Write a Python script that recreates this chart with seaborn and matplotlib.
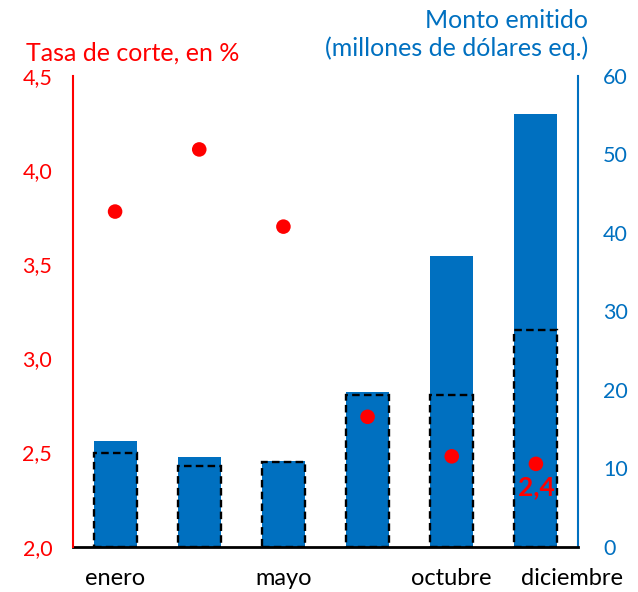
import matplotlib
matplotlib.use("Agg")
import matplotlib.pyplot as plt
import matplotlib.transforms as mtransforms
import seaborn as sns
import pandas as pd

# ---- data ----
positions = [0, 1, 2, 3, 4, 5]
tick_labels = ["enero", "", "mayo", "", "octubre", "diciembre"]
monto_emitido = [13.5, 11.4, 10.9, 19.7, 37.0, 55.1]       # blue bars (right axis)
monto_referencia = [11.9, 10.3, 10.8, 19.4, 19.4, 27.6]    # dashed outlines (right axis)
tasa_corte = [3.78, 4.11, 3.70, 2.69, 2.48, 2.44]           # red dots (left axis)
etiqueta_ultima = "2,4"
right_ticks = [0, 10, 20, 30, 40, 50, 60]
left_ticks = [2.0, 2.5, 3.0, 3.5, 4.0, 4.5]

df = pd.DataFrame({"pos": positions, "monto": monto_emitido,
                   "ref": monto_referencia, "tasa": tasa_corte})

sns.set_theme(style="white")
plt.rcParams["font.family"] = ["Lato", "DejaVu Sans"]

RED = "#FF0000"
BLUE = "#0070C0"

fig = plt.figure(figsize=(6.38, 5.92), dpi=100)
ax = fig.add_axes([73 / 638, 1 - 546.7 / 592, (578 - 73) / 638, (546.7 - 76) / 592])

# bars on the main axes (right-hand scale)
sns.barplot(data=df, x="pos", y="monto", color=BLUE, saturation=1, width=0.51,
            ax=ax, edgecolor="none", linewidth=0)
n_solid = len(ax.patches)
sns.barplot(data=df, x="pos", y="ref", fill=False, color="black", width=0.51,
            ax=ax, linewidth=1.7)
for p in ax.patches[n_solid:]:
    p.set_edgecolor("black")
    p.set_facecolor("none")
    p.set_linestyle((0, (3.2, 1.8)))
    p.set_linewidth(1.7)

# dots on twin axes (left-hand scale)
ax2 = ax.twinx()
sns.scatterplot(data=df, x="pos", y="tasa", color=RED, s=110, edgecolor="none",
                ax=ax2, zorder=5, legend=False)

# ---- right axis (bars) ----
ax.set_ylim(0, 60)
ax.set_xlim(-0.5, 5.5)
ax.yaxis.tick_right()
ax.set_yticks(right_ticks)
ax.set_yticklabels([str(v) for v in right_ticks])
ax.tick_params(axis="y", colors=BLUE, labelsize=15.5, length=0, pad=18,
               left=False, labelleft=False, right=True, labelright=True)
ax.set_ylabel("")
ax.set_xlabel("")
ax.set_xticks(positions)
ax.set_xticklabels(tick_labels)
ax.tick_params(axis="x", colors="black", labelsize=17, length=0, pad=15)
xl = ax.get_xticklabels()
xl[5].set_transform(xl[5].get_transform() +
                    mtransforms.ScaledTranslation(36 / 100, 0, fig.dpi_scale_trans))
for s in ["top", "left"]:
    ax.spines[s].set_visible(False)
ax.spines["right"].set_color(BLUE)
ax.spines["right"].set_linewidth(1.5)
ax.spines["bottom"].set_color("black")
ax.spines["bottom"].set_linewidth(2)

# ---- left axis (dots) ----
ax2.set_ylim(2.0, 4.5)
ax2.set_xlim(-0.5, 5.5)
ax2.yaxis.tick_left()
ax2.set_yticks(left_ticks)
ax2.set_yticklabels([f"{v:.1f}".replace(".", ",") for v in left_ticks])
ax2.tick_params(axis="y", colors=RED, labelsize=15.5, length=0, pad=15,
                right=False, labelright=False, left=True, labelleft=True)
ax2.set_ylabel("")
ax2.set_xlabel("")
for s in ["top", "right", "bottom"]:
    ax2.spines[s].set_visible(False)
ax2.spines["left"].set_color(RED)
ax2.spines["left"].set_linewidth(1.5)

ax2.annotate(etiqueta_ultima, xy=(positions[5], tasa_corte[5]), xytext=(0, -23),
             textcoords="offset pixels", ha="center", va="center",
             color=RED, fontsize=19, fontweight="bold")

fig.text(26 / 638, 1 - 53 / 592, "Tasa de corte, en %", color=RED, fontsize=18,
         ha="left", va="center")
fig.text(588 / 638, 1 - 20 / 592, "Monto emitido", color=BLUE, fontsize=18,
         ha="right", va="center")
fig.text(588 / 638, 1 - 48 / 592, "(millones de dólares eq.)", color=BLUE, fontsize=18,
         ha="right", va="center")

fig.savefig("out.png", dpi=100)
